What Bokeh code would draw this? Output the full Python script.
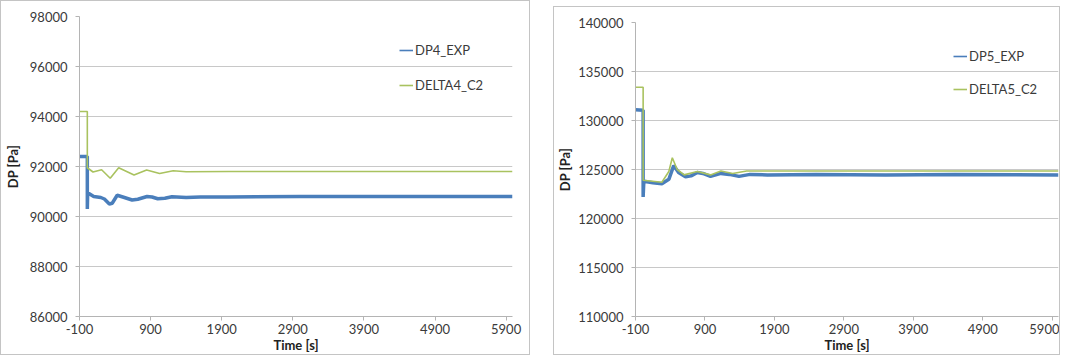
from bokeh.plotting import figure
from bokeh.layouts import row
from bokeh.models import Range1d, FixedTicker, CustomJSTickFormatter, Legend, LegendItem
from bokeh.embed import file_html
from bokeh.resources import INLINE

# ---------------- data ----------------
x_ticks = [-100, 900, 1900, 2900, 3900, 4900, 5900]

# Left chart
left_y_ticks = [86000, 88000, 90000, 92000, 94000, 96000, 98000]
dp4_t = [-100, 10, 10, 15, 100, 200, 250, 320, 360, 430, 520, 640, 720, 850, 920, 1000, 1100, 1200,
         1400, 1600, 2000, 3000, 4000, 5000, 5990]
dp4_v = [92400, 92400, 90300, 90950, 90800, 90760, 90700, 90500, 90530, 90850, 90770, 90660, 90690,
         90800, 90780, 90710, 90730, 90790, 90760, 90780, 90780, 90800, 90800, 90800, 90800]
delta4_t = [-100, 10, 10, 90, 211, 332, 451, 667, 844, 1027, 1218, 1400, 2000, 3000, 5990]
delta4_v = [94200, 94200, 91950, 91780, 91870, 91530, 91950, 91660, 91860, 91720, 91830, 91790,
            91800, 91800, 91800]

# Right chart
right_y_ticks = [110000, 115000, 120000, 125000, 130000, 135000, 140000]
dp5_t = [-100, 10, 10, 20, 150, 280, 380, 450, 520, 620, 700, 790, 870, 980, 1130, 1250, 1390,
         1550, 1800, 2500, 3500, 4500, 5990]
dp5_v = [131100, 131050, 122200, 123800, 123650, 123550, 124000, 125400, 124700, 124250, 124350,
         124700, 124600, 124300, 124600, 124500, 124300, 124500, 124450, 124500, 124450, 124500,
         124450]
delta5_t = [-100, 10, 10, 280, 380, 430, 500, 600, 790, 980, 1130, 1300, 1500, 2000, 5990]
delta5_v = [133400, 133400, 123900, 123700, 124800, 126200, 125000, 124450, 124800, 124450,
            124850, 124600, 124850, 124850, 124850]

BLUE = "#4a7ebb"
GREEN = "#a9c25f"
FONT = "Lato"
GRID = "#c8c8c8"
AXIS = "#b4b4b4"
TEXT = "#3a3a3a"

int_fmt = CustomJSTickFormatter(code="return tick.toFixed(0);")
NAN = float("nan")


def make_chart(width, height, y_start, y_end, y_ticks, t1, v1, t2, v2, names,
               borders, legend_loc, legend_spacing, y_standoff, y_label_standoff, margin):
    p = figure(width=width, height=height, output_backend="svg", toolbar_location=None,
               x_range=Range1d(-100, 5990), y_range=Range1d(y_start, y_end),
               min_border_left=borders[0], min_border_right=borders[1],
               min_border_top=borders[2], min_border_bottom=borders[3],
               margin=margin,
               styles={"border": "1px solid #c4c4c4", "box-sizing": "border-box"})
    p.outline_line_color = None
    p.background_fill_color = "white"
    p.border_fill_color = "white"

    p.line(t1, v1, line_color=BLUE, line_width=3.5)
    p.line(t2, v2, line_color=GREEN, line_width=1.6)
    # thin-line stand-ins used only for the legend samples (no visible data)
    g1 = p.line([NAN, NAN], [NAN, NAN], line_color=BLUE, line_width=1.6)
    g2 = p.line([NAN, NAN], [NAN, NAN], line_color=GREEN, line_width=1.6)

    p.xgrid.visible = False
    p.ygrid.grid_line_color = GRID
    p.ygrid.grid_line_width = 1

    p.xaxis.ticker = FixedTicker(ticks=x_ticks)
    p.yaxis.ticker = FixedTicker(ticks=y_ticks)
    p.yaxis.formatter = int_fmt
    p.xaxis.formatter = int_fmt

    for ax in (p.xaxis[0], p.yaxis[0]):
        ax.axis_line_color = AXIS
        ax.major_tick_line_color = AXIS
        ax.major_tick_in = 0
        ax.major_tick_out = 4
        ax.minor_tick_line_color = None
        ax.major_label_text_font = FONT
        ax.major_label_text_font_size = "13px"
        ax.major_label_text_color = TEXT
        ax.axis_label_text_font = FONT
        ax.axis_label_text_font_size = "13px"
        ax.axis_label_text_font_style = "bold"
        ax.axis_label_text_color = "#222222"

    p.xaxis.axis_label = "Time [s]"
    p.yaxis.axis_label = "DP [Pa]"
    p.xaxis.major_label_standoff = 3
    p.xaxis.axis_label_standoff = 0
    p.yaxis.major_label_standoff = y_standoff
    p.yaxis.axis_label_standoff = y_label_standoff

    legend = Legend(items=[LegendItem(label=names[0], renderers=[g1]),
                           LegendItem(label=names[1], renderers=[g2])],
                    location=legend_loc, orientation="vertical")
    legend.spacing = legend_spacing
    legend.padding = 0
    legend.margin = 0
    legend.glyph_width = 14
    legend.glyph_height = 20
    legend.label_height = 20
    legend.label_standoff = 2
    legend.label_text_font = FONT
    legend.label_text_font_size = "13px"
    legend.label_text_color = TEXT
    legend.border_line_color = None
    legend.background_fill_alpha = 0
    p.add_layout(legend)
    return p


p1 = make_chart(530, 355, 86000, 98000, left_y_ticks, dp4_t, dp4_v, delta4_t, delta4_v,
                ["DP4_EXP", "DELTA4_C2"], (74, 19, 8, 40), (320, 221), 15, 8, 6,
                (0, 0, 0, 0))
p2 = make_chart(507, 349, 110000, 140000, right_y_ticks, dp5_t, dp5_v, delta5_t, delta5_v,
                ["DP5_EXP", "DELTA5_C2"], (74, 3, 15, 34), (318, 217), 13, 8, 2,
                (6, 0, 0, 0))

layout = row(p1, p2, spacing=23)
open("out.html", "w").write(file_html(layout, INLINE))
